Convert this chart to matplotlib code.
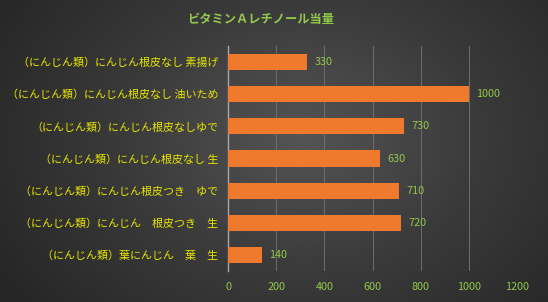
import numpy as np
import matplotlib
matplotlib.use("Agg")
import matplotlib.pyplot as plt
from matplotlib.colors import LinearSegmentedColormap

plt.rcParams['font.family'] = ['Noto Sans CJK JP', 'DejaVu Sans']

title = "ビタミンＡレチノール当量"
categories = [
    "（にんじん類）にんじん根皮なし 素揚げ",
    "（にんじん類）にんじん根皮なし 油いため",
    "（にんじん類）にんじん根皮なしゆで",
    "（にんじん類）にんじん根皮なし 生",
    "（にんじん類）にんじん根皮つき　ゆで",
    "（にんじん類）にんじん　根皮つき　生",
    "（にんじん類）葉にんじん　葉　生",
]
values = [330, 1000, 730, 630, 710, 720, 140]
xticks = [0, 200, 400, 600, 800, 1000, 1200]

W, H = 548, 302
fig = plt.figure(figsize=(W/100, H/100), dpi=100)

# radial gradient background
bg = fig.add_axes([0, 0, 1, 1], zorder=-10)
yy, xx = np.mgrid[0:H, 0:W]
cx, cy = W*0.55, H*0.45
r = np.sqrt(((xx-cx)/(W*0.65))**2 + ((yy-cy)/(H*0.9))**2)
r = np.clip(r, 0, 1)
cmap = LinearSegmentedColormap.from_list("bg", ["#545454", "#3a3a3a", "#262626"])
bg.imshow(r, cmap=cmap, aspect='auto', extent=[0, 1, 0, 1], vmin=0, vmax=1)
bg.axis('off')

ax = fig.add_axes([228/W, 1-271/H, (517-228)/W, (271-46)/H])
ax.patch.set_alpha(0)
n = len(categories)
ypos = np.arange(n)[::-1]
bars = ax.barh(ypos, values, height=0.5, color="#ef7a2e", zorder=3)
for b, v in zip(bars, values):
    ax.text(v + 30, b.get_y() + b.get_height()/2, str(v), va='center', ha='left',
            color="#92c94a", fontsize=7.8)
ax.set_xlim(0, 1200)
ax.set_ylim(-0.5, n - 0.5)
ax.set_xticks(xticks)
ax.set_xticklabels([str(t) for t in xticks], color="#92c94a", fontsize=7.8)
ax.set_yticks(ypos)
ax.set_yticklabels(categories, color="#e8e600", fontsize=7.9)
ax.tick_params(axis='both', length=0, pad=7)
ax.tick_params(axis='x', pad=8)
ax.grid(axis='x', color="#6e6e6e", linewidth=0.7, zorder=0)
for s in ['top', 'right', 'bottom']:
    ax.spines[s].set_visible(False)
ax.spines['left'].set_color("#a8a8a8")
ax.spines['left'].set_linewidth(1.0)

fig.text(261/W, 1-19/H, title, ha='center', va='center', color="#92c94a",
         fontsize=8.8, fontweight='bold')

fig.savefig("out.png", dpi=100)
